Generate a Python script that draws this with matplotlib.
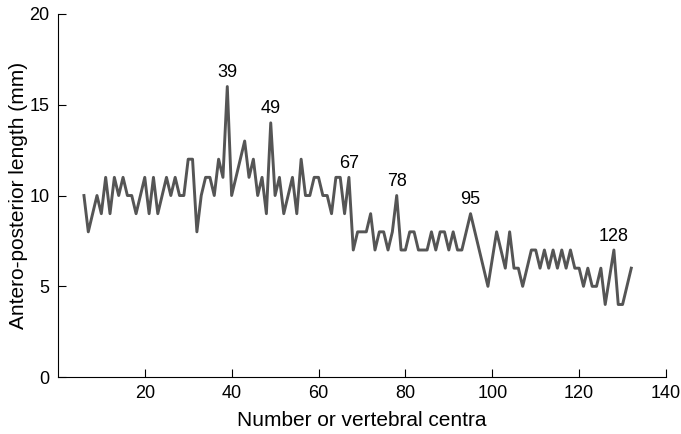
import matplotlib.pyplot as plt
import numpy as np

plt.rcParams['font.family'] = ['Liberation Sans', 'DejaVu Sans']

# number of vertebral centrum and its antero-posterior length (mm)
centra = np.arange(6, 133)
length = [10, 8, 9, 10, 9, 11, 9, 11, 10, 11, 10, 10, 9, 10, 11, 9, 11, 9, 10, 11,
          10, 11, 10, 10, 12, 12, 8, 10, 11, 11, 10, 12, 11, 16, 10, 11, 12, 13, 11, 12,
          10, 11, 9, 14, 10, 11, 9, 10, 11, 9, 12, 10, 10, 11, 11, 10, 10, 9, 11, 11,
          9, 11, 7, 8, 8, 8, 9, 7, 8, 8, 7, 8, 10, 7, 7, 8, 8, 7, 7, 7,
          8, 7, 8, 8, 7, 8, 7, 7, 8, 9, 8, 7, 6, 5, 6.5, 8, 7, 6, 8, 6,
          6, 5, 6, 7, 7, 6, 7, 6, 7, 6, 7, 6, 7, 6, 6, 5, 6, 5, 5, 6,
          4, 5.5, 7, 4, 4, 5, 6]

# peaks labelled on the chart
peaks = [39, 49, 67, 78, 95, 128]

fig = plt.figure(figsize=(6.81, 4.34), dpi=100)
ax = fig.add_axes([0.085, 0.131, 0.893, 0.837])

ax.plot(centra, length, color='#555555', lw=2.1)

for p in peaks:
    y = length[list(centra).index(p)]
    ax.text(p, y + 0.3, str(p), ha='center', va='bottom', fontsize=13)

ax.set_xlim(0, 140)
ax.set_ylim(0, 20)
ax.set_xticks([20, 40, 60, 80, 100, 120, 140])
ax.set_yticks([0, 5, 10, 15, 20])
ax.tick_params(direction='in', length=6, width=0.8, labelsize=13, pad=6)
ax.spines['top'].set_visible(False)
ax.spines['right'].set_visible(False)
ax.set_xlabel('Number or vertebral centra', fontsize=15, labelpad=6)
ax.set_ylabel('Antero-posterior length (mm)', fontsize=15, labelpad=1)

plt.savefig('out.png', dpi=100)
